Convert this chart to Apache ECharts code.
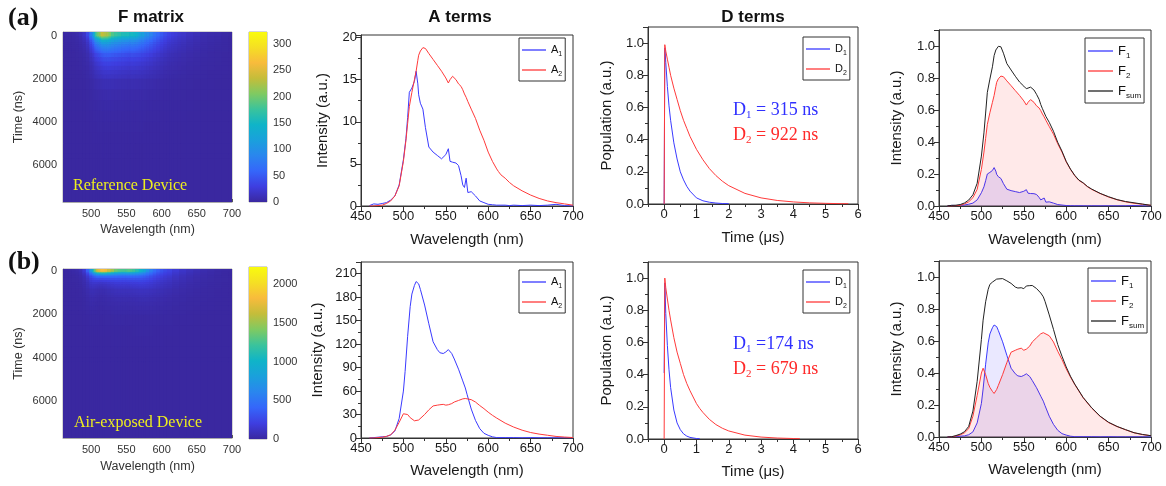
<!DOCTYPE html>
<html><head><meta charset="utf-8">
<script src="https://cdn.jsdelivr.net/npm/echarts@6/dist/echarts.min.js"></script>
<style>html,body{margin:0;padding:0;background:#fff}#c{width:1166px;height:486px}</style>
</head><body><div id="c"></div>
<script>
// ---------------- data ----------------
// row (a): Reference device
const wlA = [460,465,470,475,480,485,490,495,500,503,505,507,510,513,515,517,518,520,523,526,530,535,540,545,550,553,555,558,562,565,568,570,572,574,576,580,585,590,595,600,605,610,612,615,620,625,630,640,650,660,670,680,690,700];
const A1a = [0.05,0.25,0.2,0.3,0.4,0.7,1.2,2.5,5.5,8.0,10.5,13.5,14.0,14.8,16.0,14.5,13.2,12.2,11.5,9.3,7.0,6.4,6.0,5.6,6.1,6.8,5.3,5.2,5.1,4.8,3.6,2.5,2.2,3.3,1.6,1.7,1.2,0.6,0.4,0.2,0.15,0.1,0.3,0.1,0.1,0.05,0.1,0.05,0.1,0.05,0.1,0.2,0.05,0.0];
const A2a = [0,0,0.05,0.1,0.3,0.6,1.2,2.4,5.3,7.8,9.8,11.8,13.5,15.0,16.0,17.3,17.9,18.4,18.8,18.7,18.1,17.4,16.7,16.0,15.2,14.6,15.0,15.4,15.0,14.5,14.2,13.8,13.3,12.9,12.4,11.5,10.4,9.0,7.8,6.4,5.3,4.4,4.1,3.7,3.3,2.8,2.4,1.8,1.3,0.9,0.6,0.4,0.25,0.1];
const F1a = [0.001,0.004,0.003,0.005,0.006,0.011,0.018,0.038,0.083,0.12,0.158,0.2,0.21,0.222,0.24,0.218,0.198,0.183,0.172,0.14,0.105,0.096,0.09,0.084,0.092,0.102,0.08,0.078,0.077,0.072,0.054,0.038,0.033,0.05,0.024,0.026,0.018,0.009,0.006,0.003,0.002,0.0015,0.0045,0.0015,0.0015,0.001,0.0015,0.001,0.0015,0.001,0.0015,0.003,0.001,0];
const F2a = [0,0,0.002,0.004,0.013,0.026,0.052,0.104,0.229,0.337,0.423,0.51,0.583,0.648,0.691,0.747,0.773,0.795,0.812,0.808,0.782,0.752,0.721,0.691,0.657,0.631,0.648,0.665,0.648,0.626,0.613,0.596,0.575,0.557,0.536,0.497,0.449,0.389,0.337,0.276,0.229,0.19,0.177,0.16,0.143,0.121,0.104,0.078,0.056,0.039,0.026,0.017,0.011,0.004];
const Fsa = [0.001,0.004,0.005,0.009,0.019,0.037,0.07,0.142,0.312,0.457,0.581,0.71,0.793,0.87,0.94,0.975,0.985,0.998,0.995,0.955,0.89,0.85,0.811,0.775,0.749,0.733,0.728,0.743,0.725,0.698,0.667,0.634,0.608,0.607,0.56,0.523,0.467,0.398,0.343,0.279,0.231,0.192,0.182,0.162,0.145,0.122,0.106,0.079,0.058,0.04,0.028,0.02,0.012,0.004];
const tDa = [0,0.02,0.05,0.1,0.15,0.2,0.3,0.4,0.5,0.6,0.7,0.8,1.0,1.2,1.4,1.6,1.8,2.0,2.5,3.0,3.5,4.0,4.5,5.0,5.5,5.7];
const D1a = [0,0.97,0.88,0.73,0.61,0.52,0.38,0.28,0.2,0.15,0.11,0.08,0.038,0.02,0.011,0.006,0.003,0.002,null,null,null,null,null,null,null,null];
const D2a = [0,0.99,0.95,0.9,0.85,0.8,0.72,0.65,0.58,0.52,0.47,0.42,0.34,0.275,0.22,0.177,0.142,0.114,0.066,0.038,0.022,0.013,0.007,0.004,0.002,0.002];

// row (b): Air-exposed device
const wlB = [460,465,470,475,480,485,490,495,500,502,505,508,510,513,515,518,520,525,530,535,540,543,547,550,553,557,560,565,570,573,575,580,585,590,595,600,605,610,620,630,640,650,660,670,680,690,700];
const A1b = [0,0.5,1,1.5,2,4,9,25,60,85,130,168,184,195,200,197,190,170,146,123,113,109,108,110,113,108,101,88,73,64,56,37,22.5,12,6,3.4,1.5,0.5,0.5,0.5,0.3,0.5,0.3,0.3,0.2,0.3,0];
const A2b = [0,0,0.5,1,2,4,10,20,31,33,30,26,24,22,21,23,25,30,36,41,42,42.5,43,42,42.5,44,46,48,50,50.5,50.5,49,46,41.5,37.5,33,29,25.5,19,14,10,7,5,3.5,2,1.2,0.6];
const F1b = [0,0.002,0.003,0.005,0.007,0.014,0.032,0.088,0.21,0.3,0.455,0.588,0.644,0.683,0.70,0.69,0.665,0.595,0.511,0.43,0.395,0.382,0.378,0.385,0.395,0.378,0.353,0.308,0.255,0.224,0.196,0.13,0.079,0.042,0.021,0.012,0.005,0.002,0.002,0.002,0.001,0.002,0.001,0.001,0.001,0.001,0];
const F2b = [0,0,0.006,0.013,0.026,0.052,0.13,0.26,0.40,0.43,0.39,0.335,0.31,0.285,0.272,0.297,0.323,0.39,0.465,0.53,0.542,0.549,0.555,0.542,0.549,0.568,0.594,0.62,0.645,0.652,0.652,0.633,0.594,0.536,0.484,0.426,0.375,0.329,0.245,0.181,0.129,0.09,0.065,0.045,0.026,0.015,0.008];
const Fsb = [0,0.002,0.009,0.018,0.033,0.066,0.162,0.348,0.61,0.73,0.845,0.923,0.954,0.968,0.972,0.987,0.995,0.99,0.976,0.96,0.937,0.931,0.933,0.927,0.944,0.946,0.947,0.928,0.9,0.876,0.848,0.763,0.673,0.578,0.505,0.438,0.38,0.331,0.247,0.183,0.13,0.092,0.066,0.046,0.027,0.016,0.008];
const tDb = [0,0.02,0.05,0.1,0.15,0.2,0.3,0.4,0.5,0.6,0.7,0.8,1.0,1.1,1.2,1.4,1.6,1.8,2.0,2.5,3.0,3.5,4.0,4.2];
const D1b = [0.41,0.97,0.78,0.58,0.43,0.32,0.18,0.1,0.058,0.032,0.018,0.01,0.003,0.002,null,null,null,null,null,null,null,null,null,null];
const D2b = [0,1.0,0.94,0.87,0.8,0.74,0.63,0.54,0.47,0.4,0.345,0.3,0.22,0.19,0.165,0.122,0.09,0.067,0.05,0.024,0.012,0.006,0.003,0.002];

// F-matrix calibration (colour-bar tops and count scale)
const cbarMaxA = 323, cbarMaxB = 2220;
const heatScaleA = 7.5, heatScaleB = 8.5;
const heatTicksX = [500,550,600,650,700];
const heatTicksY = [0,2000,4000,6000];
const dTicksX = [0,1,2,3,4,5,6];
const dMinorX = [-0.5,0.5,1.5,2.5,3.5,4.5,5.5];
const lifetimesA = ['315','922'];
const lifetimesB = ['174','679'];

// ---------------- chart ----------------
const SANS = '"Liberation Sans", Arial, sans-serif';
const SERIF = '"Liberation Serif", "Times New Roman", serif';
const BLUE = '#3a3aff', RED = '#ff3a3a';
const parula = ['#3a28a0','#3e3ee0','#3566fa','#2a86ee','#1aa0dc','#0fb4c8','#3ac39c','#7fca62','#c4bd3a','#f8bb3c','#f5df24','#f9fb0e'];
const HEAT_YMAX = 7735;
const zip = (xs, ys) => xs.map((x, i) => [x, ys[i]]).filter(p => p[1] != null);

function heatCells(wl, A1, A2, tD, D1, D2, scale, yMin) {
  const cells = [];
  for (let j = 0; j < wl.length; j++) {
    const x0 = j === 0 ? wl[0] : (wl[j - 1] + wl[j]) / 2;
    const x1 = j === wl.length - 1 ? wl[j] : (wl[j] + wl[j + 1]) / 2;
    for (let i = 1; i < tD.length; i++) {
      const y0 = i === 1 ? yMin : tD[i - 1] * 1000;
      const y1 = tD[i] * 1000;
      const d1 = D1[i] == null ? 0 : D1[i];
      const d2 = D2[i] == null ? 0 : D2[i];
      cells.push([x0, x1, y0, y1, scale * (A1[j] * d1 + A2[j] * d2)]);
    }
    cells.push([x0, x1, tD[tD.length - 1] * 1000, HEAT_YMAX, 0]);
  }
  return cells;
}
function renderCell(params, api) {
  const p0 = api.coord([api.value(0), api.value(2)]);
  const p1 = api.coord([api.value(1), api.value(3)]);
  const cs = params.coordSys;
  let x0 = Math.max(Math.min(p0[0], p1[0]), cs.x), x1 = Math.min(Math.max(p0[0], p1[0]), cs.x + cs.width);
  let y0 = Math.max(Math.min(p0[1], p1[1]), cs.y), y1 = Math.min(Math.max(p0[1], p1[1]), cs.y + cs.height);
  if (x1 <= x0 || y1 <= y0) return null;
  const w = Math.min(x1 - x0 + 0.6, cs.x + cs.width - x0), h = Math.min(y1 - y0 + 0.6, cs.y + cs.height - y0);
  return {type: 'rect', shape: {x: x0, y: y0, width: w, height: h}, style: {fill: api.visual('color')}};
}
function renderBar(params, api) {
  const p0 = api.coord([0, api.value(1)]);
  const p1 = api.coord([1, 0]);
  return {type: 'rect', shape: {x: p0[0], y: p0[1], width: p1[0] - p0[0], height: p1[1] - p0[1]},
    style: {fill: new echarts.graphic.LinearGradient(0, 1, 0, 0, parula.map((c, i) => ({offset: i / (parula.length - 1), color: c})))}};
}

const grids = [
  {left: 63, top: 32, width: 169, height: 170, show: true, borderColor: '#aaa', backgroundColor: parula[0]},
  {left: 249, top: 32, width: 18, height: 170, show: true, borderColor: '#aaa'},
  {left: 361, top: 35, width: 212, height: 171, show: true, borderColor: '#333'},
  {left: 648, top: 27, width: 210, height: 177, show: true, borderColor: '#333'},
  {left: 939, top: 30, width: 212, height: 176, show: true, borderColor: '#333'},
  {left: 63, top: 269, width: 169, height: 169, show: true, borderColor: '#aaa', backgroundColor: parula[0]},
  {left: 249, top: 267, width: 18, height: 172, show: true, borderColor: '#aaa'},
  {left: 361, top: 262, width: 212, height: 176, show: true, borderColor: '#333'},
  {left: 648, top: 262, width: 210, height: 177, show: true, borderColor: '#333'},
  {left: 939, top: 261, width: 212, height: 176, show: true, borderColor: '#333'}
];

const nameOrigin = {fontFamily: SANS, fontSize: 15, color: '#1a1a1a'};
const lblOrigin = {fontFamily: SANS, fontSize: 13, color: '#1a1a1a', margin: 4};
const plain = v => String(v);
function oAxis(gi, min, max, interval, name, nameGap, opts) {
  opts = opts || {};
  return {
    type: 'value', gridIndex: gi, min: min, max: max, interval: interval,
    name: name, nameLocation: 'middle', nameGap: nameGap, nameTextStyle: nameOrigin,
    axisLine: {show: true, onZero: false, lineStyle: {color: '#333', width: 1}},
    axisTick: {show: true, length: 5, lineStyle: {color: '#333'}},
    minorTick: {show: opts.minor !== false, splitNumber: 2, length: 3, lineStyle: {color: '#333'}},
    splitLine: {show: false},
    axisLabel: Object.assign({}, lblOrigin, {showMaxLabel: opts.hideMax ? false : null, formatter: opts.fmt || plain})
  };
}
function heatX(gi, gap) {
  return {type: 'value', gridIndex: gi, min: 460, max: 700, name: 'Wavelength (nm)', nameLocation: 'middle', nameGap: gap,
    nameTextStyle: {fontFamily: SANS, fontSize: 12.5, color: '#333'},
    axisLine: {show: true, onZero: false, lineStyle: {color: '#aaa'}},
    axisTick: {show: true, inside: true, length: 3, customValues: heatTicksX, lineStyle: {color: '#555'}},
    axisLabel: {customValues: heatTicksX, formatter: plain, fontFamily: SANS, fontSize: 11, color: '#333', margin: 6},
    splitLine: {show: false}};
}
function heatY(gi, min) {
  return {type: 'value', gridIndex: gi, min: min, max: HEAT_YMAX, inverse: true, name: 'Time (ns)', nameLocation: 'middle', nameGap: 38,
    nameTextStyle: {fontFamily: SANS, fontSize: 12.5, color: '#333'},
    axisLine: {show: true, onZero: false, lineStyle: {color: '#aaa'}},
    axisTick: {show: true, inside: true, length: 3, customValues: heatTicksY, lineStyle: {color: '#555'}},
    axisLabel: {customValues: heatTicksY, formatter: plain, fontFamily: SANS, fontSize: 11, color: '#333', margin: 6},
    splitLine: {show: false}};
}
function barX(gi) { return {type: 'value', gridIndex: gi, min: 0, max: 1, show: false}; }
function barY(gi, max, interval) {
  return {type: 'value', gridIndex: gi, min: 0, max: max, interval: interval, position: 'right',
    axisLine: {show: false}, axisTick: {show: false}, splitLine: {show: false},
    axisLabel: {formatter: plain, fontFamily: SANS, fontSize: 11, color: '#333', margin: 6, showMaxLabel: false}};
}
function dX(gi, gap) {
  const a = oAxis(gi, -0.5, 6, null, 'Time (\u03bcs)', gap, {minor: false});
  delete a.interval;
  a.axisTick.customValues = dTicksX;
  a.axisLabel.customValues = dTicksX;
  return a;
}
function dMinor(gi) {
  return {type: 'value', gridIndex: gi, min: -0.5, max: 6, position: 'bottom', offset: 0,
    axisLine: {show: false}, axisLabel: {show: false}, splitLine: {show: false},
    axisTick: {show: true, length: 3, customValues: dMinorX, lineStyle: {color: '#333'}}};
}
const f1 = v => v.toFixed(1);

const xAxes = [
  heatX(0, 21), barX(1),
  oAxis(2, 450, 700, 50, 'Wavelength (nm)', 26),
  dX(3, 26),
  oAxis(4, 450, 700, 50, 'Wavelength (nm)', 26),
  heatX(5, 22), barX(6),
  oAxis(7, 450, 700, 50, 'Wavelength (nm)', 25),
  dX(8, 25),
  oAxis(9, 450, 700, 50, 'Wavelength (nm)', 25),
  dMinor(3), dMinor(8)
];
const yAxes = [
  heatY(0, -170), barY(1, cbarMaxA, 50),
  oAxis(2, 0, 20.3, 5, 'Intensity (a.u.)', 31, {hideMax: true}),
  oAxis(3, 0, 1.1, 0.2, 'Population (a.u.)', 34, {hideMax: true, fmt: f1}),
  oAxis(4, 0, 1.1, 0.2, 'Intensity (a.u.)', 35, {hideMax: true, fmt: f1}),
  heatY(5, -110), barY(6, cbarMaxB, 500),
  oAxis(7, 0, 225, 30, 'Intensity (a.u.)', 36, {hideMax: true}),
  oAxis(8, 0, 1.1, 0.2, 'Population (a.u.)', 34, {hideMax: true, fmt: f1}),
  oAxis(9, 0, 1.1, 0.2, 'Intensity (a.u.)', 35, {hideMax: true, fmt: f1})
];

function line(name, gi, data, color, width, area, z) {
  const s = {type: 'line', name: name, xAxisIndex: gi, yAxisIndex: gi, data: data, symbol: 'none', showSymbol: false,
    lineStyle: {color: color, width: width || 1}, itemStyle: {color: color}, z: z || 2, silent: true};
  if (area) s.areaStyle = {color: area, origin: 'start'};
  return s;
}
const series = [
  {type: 'custom', name: 'Fmat_a', xAxisIndex: 0, yAxisIndex: 0, renderItem: renderCell, silent: true,
    dimensions: ['x0','x1','y0','y1','v'], encode: {x: [0, 1], y: [2, 3]},
    data: heatCells(wlA, A1a, A2a, tDa, D1a, D2a, heatScaleA, -170)},
  {type: 'custom', name: 'cbar_a', xAxisIndex: 1, yAxisIndex: 1, renderItem: renderBar, silent: true, data: [[0, cbarMaxA]]},
  line('A1', 2, zip(wlA, A1a), BLUE),
  line('A2', 2, zip(wlA, A2a), RED),
  line('D1', 3, zip(tDa, D1a), BLUE),
  line('D2', 3, zip(tDa, D2a), RED),
  line('F1', 4, zip(wlA, F1a), BLUE, 1, 'rgba(40,20,255,0.16)', 2),
  line('F2', 4, zip(wlA, F2a), RED, 1, 'rgba(255,0,0,0.12)', 3),
  line('Fsum', 4, zip(wlA, Fsa), '#222', 1, null, 4),
  {type: 'custom', name: 'Fmat_b', xAxisIndex: 5, yAxisIndex: 5, renderItem: renderCell, silent: true,
    dimensions: ['x0','x1','y0','y1','v'], encode: {x: [0, 1], y: [2, 3]},
    data: heatCells(wlB, A1b, A2b, tDb, D1b, D2b, heatScaleB, -110)},
  {type: 'custom', name: 'cbar_b', xAxisIndex: 6, yAxisIndex: 6, renderItem: renderBar, silent: true, data: [[0, cbarMaxB]]},
  line('A1', 7, zip(wlB, A1b), BLUE),
  line('A2', 7, zip(wlB, A2b), RED),
  line('D1', 8, zip(tDb, D1b), BLUE),
  line('D2', 8, zip(tDb, D2b), RED),
  line('F1', 9, zip(wlB, F1b), BLUE, 1, 'rgba(40,20,255,0.14)', 2),
  line('F2', 9, zip(wlB, F2b), RED, 1, 'rgba(255,0,0,0.12)', 3),
  line('Fsum', 9, zip(wlB, Fsb), '#222', 1, null, 4)
];

function legend(names, left, top, fs, gap, iw) {
  return {data: names.map(n => ({name: n, icon: 'rect'})), left: left, top: top, orient: 'vertical', selectedMode: false,
    itemWidth: iw, itemHeight: 1.3, itemGap: gap, padding: [4, 3, 3, 3],
    borderColor: '#333', borderWidth: 1, backgroundColor: '#fff',
    formatter: n => n[0] + '{s|' + n.slice(1) + '}',
    textStyle: {fontFamily: SANS, fontSize: fs, color: '#111', lineHeight: fs + 5,
      rich: {s: {fontFamily: SANS, fontSize: Math.round(fs * 0.62), color: '#111', lineHeight: fs + 5, verticalAlign: 'bottom'}}}};
}
const legends = [
  legend(['A1', 'A2'], 519, 38, 11, 4, 24),
  legend(['D1', 'D2'], 803, 37, 11, 4, 24),
  legend(['F1', 'F2', 'Fsum'], 1085, 38, 13, 2, 25),
  legend(['A1', 'A2'], 519, 270, 11, 4, 24),
  legend(['D1', 'D2'], 803, 270, 11, 4, 24),
  legend(['F1', 'F2', 'Fsum'], 1088, 268, 13, 2, 25)
];

function txt(x, y, text, font, fill, align) {
  return {type: 'text', x: x, y: y, silent: true, z: 100,
    style: {text: text, font: font, fill: fill, align: align || 'left', verticalAlign: 'middle'}};
}
function dLabel(x, y, idx, eq, color) {
  return {type: 'text', x: x, y: y, silent: true, z: 100,
    style: {text: '{n|D}{s|' + idx + '}{n|' + eq + '}', fill: color, align: 'left', verticalAlign: 'middle',
      rich: {n: {fontFamily: SERIF, fontSize: 18, fill: color, lineHeight: 22, verticalAlign: 'middle'},
             s: {fontFamily: SERIF, fontSize: 11, fill: color, lineHeight: 22, verticalAlign: 'bottom'}}}};
}
const graphics = [
  txt(8, 18, '(a)', 'bold 26px ' + SERIF, '#111'),
  txt(8, 262, '(b)', 'bold 26px ' + SERIF, '#111'),
  txt(151, 17, 'F matrix', 'bold 17px ' + SANS, '#111', 'center'),
  txt(460, 17, 'A terms', 'bold 17px ' + SANS, '#111', 'center'),
  txt(753, 17, 'D terms', 'bold 17px ' + SANS, '#111', 'center'),
  txt(73, 186, 'Reference Device', '16px ' + SERIF, '#eeee1e'),
  txt(74, 423, 'Air-exposed Device', '16px ' + SERIF, '#eeee1e'),
  dLabel(733, 110, '1', ' = ' + lifetimesA[0] + ' ns', '#3030ff'),
  dLabel(733, 135, '2', ' = ' + lifetimesA[1] + ' ns', '#ff2a2a'),
  dLabel(733, 344, '1', ' =' + lifetimesB[0] + ' ns', '#3030ff'),
  dLabel(733, 369, '2', ' = ' + lifetimesB[1] + ' ns', '#ff2a2a')
];

const chart = echarts.init(document.getElementById('c'));
chart.setOption({
  animation: false,
  backgroundColor: '#fff',
  grid: grids,
  xAxis: xAxes,
  yAxis: yAxes,
  visualMap: [
    {type: 'continuous', show: false, seriesIndex: 0, dimension: 4, min: 0, max: cbarMaxA, inRange: {color: parula}},
    {type: 'continuous', show: false, seriesIndex: 9, dimension: 4, min: 0, max: cbarMaxB, inRange: {color: parula}}
  ],
  legend: legends,
  series: series,
  graphic: graphics
});
</script>
</body></html>
